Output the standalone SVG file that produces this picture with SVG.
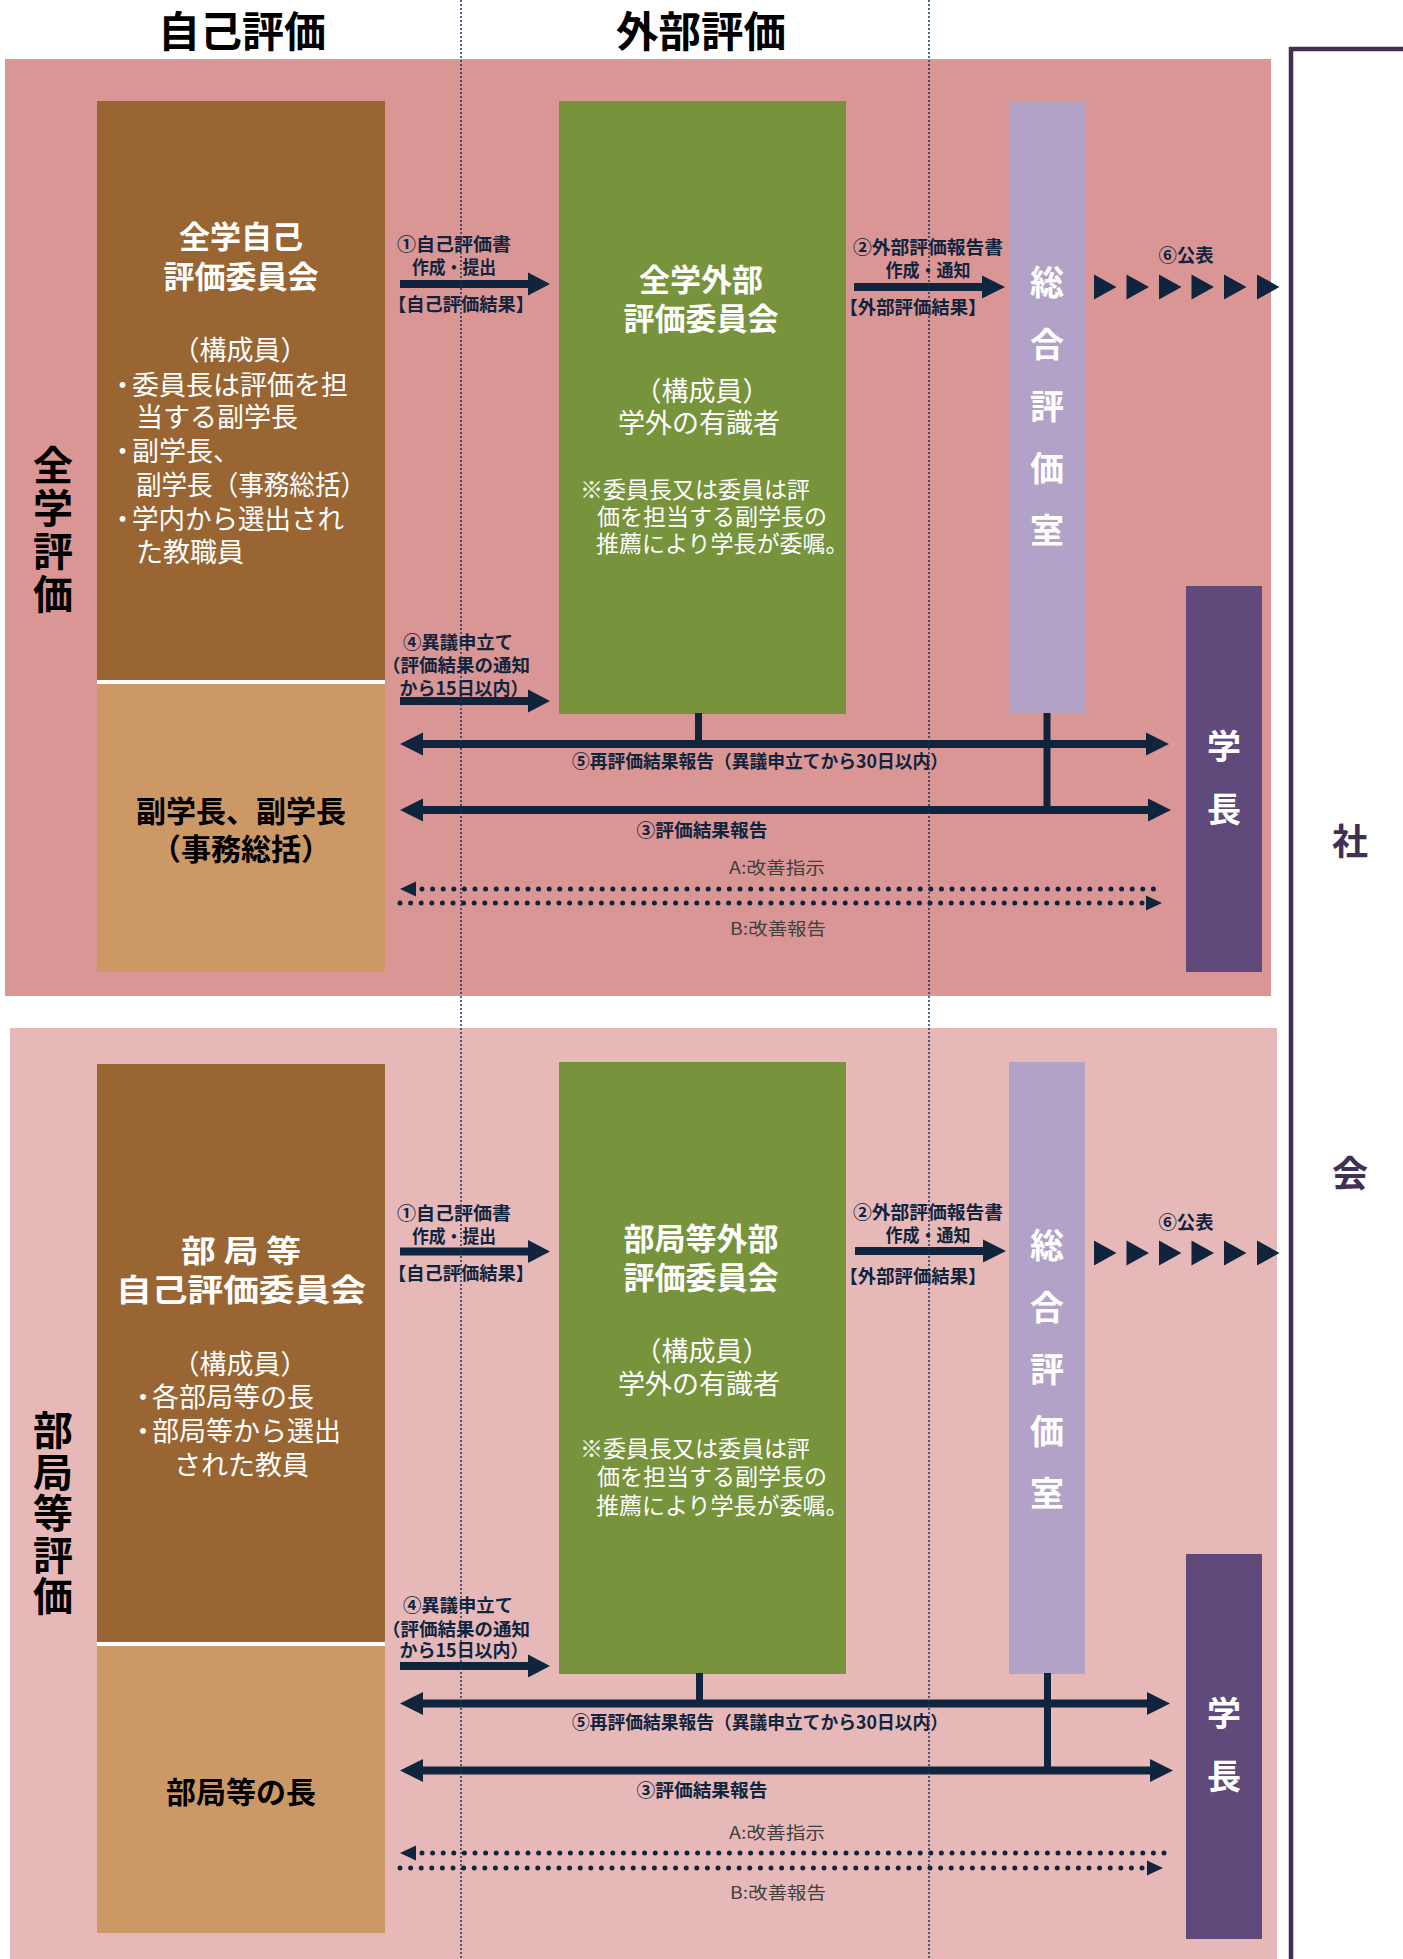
<svg xmlns="http://www.w3.org/2000/svg" width="1403" height="1959" viewBox="0 0 1403 1959">
<style>
text{font-family:"Noto Sans CJK JP","Noto Sans",sans-serif}
.hd{font-size:42px;font-weight:700;fill:#000;text-anchor:middle}
.side{font-size:40px;font-weight:700;fill:#000;writing-mode:vertical-rl;text-orientation:upright}
.ttl{font-size:31px;font-weight:700;fill:#fff;text-anchor:middle}
.body{font-size:27px;font-weight:400;fill:#fff}
.note{font-size:23px;font-weight:400;fill:#fff}
.tan{font-size:30px;font-weight:700;fill:#000;text-anchor:middle}
.vt{font-size:34px;font-weight:700;fill:#fff;writing-mode:vertical-rl;text-orientation:upright}
.soc{font-size:36px;font-weight:700;fill:#403152;text-anchor:middle}
.lbl{font-size:18px;font-weight:700;fill:#10243E;text-anchor:middle}
.ab{font-size:17px;font-weight:400;fill:#404040;text-anchor:middle}
.arr{fill:#10243E}
.dots{stroke:#10243E;stroke-width:5;stroke-linecap:round;stroke-dasharray:0 10.6;fill:none}
.guide{stroke:#17375E;stroke-width:1.5;stroke-dasharray:2 2;fill:none}
</style>
<rect x="0" y="0" width="1403" height="1959" fill="#fff"/>

<g id="headers">
<text class="hd" x="242" y="47" textLength="168" lengthAdjust="spacingAndGlyphs">自己評価</text>
<text class="hd" x="701" y="47" textLength="170" lengthAdjust="spacingAndGlyphs">外部評価</text>
</g>

<g id="panel-zengaku">
<rect x="5" y="59" width="1266" height="937" fill="#D99694"/>
<text class="side" x="53" y="445" letter-spacing="3">全学評価</text>
</g>

<g id="panel-bukyoku">
<rect x="10" y="1028" width="1267" height="931" fill="#E6B9B8"/>
<text class="side" x="53" y="1410" letter-spacing="1.5">部局等評価</text>
</g>

<g id="society">
<path d="M1403 49 H1291 V1959" fill="none" stroke="#403152" stroke-width="4.5"/>
<text class="soc" x="1350" y="855">社</text>
<text class="soc" x="1350" y="1187">会</text>
</g>

<!-- top section nodes -->
<g id="self-committee-top">
<rect x="97" y="101" width="288" height="579" fill="#996633"/>
<text class="ttl" x="241" y="248">全学自己</text>
<text class="ttl" x="241" y="288">評価委員会</text>
<text class="body" x="240" y="360" text-anchor="middle">（構成員）</text>
<text class="body" x="109" y="395">・<tspan x="132">委員長は評価を担</tspan></text>
<text class="body" x="136" y="427">当する副学長</text>
<text class="body" x="109" y="461">・<tspan x="132">副学長、</tspan></text>
<text class="body" x="136" y="495" textLength="230" lengthAdjust="spacingAndGlyphs">副学長（事務総括）</text>
<text class="body" x="109" y="529">・<tspan x="132" textLength="212" lengthAdjust="spacingAndGlyphs">学内から選出され</tspan></text>
<text class="body" x="136" y="562">た教職員</text>
</g>
<rect x="97" y="680" width="288" height="4" fill="#fff"/>
<g id="vp-top">
<rect x="97" y="684" width="288" height="288" fill="#CC9966"/>
<text class="tan" x="241" y="822">副学長、副学長</text>
<text class="tan" x="241" y="860">（事務総括）</text>
</g>
<g id="ext-committee-top">
<rect x="559" y="101" width="287" height="613" fill="#77933C"/>
<text class="ttl" x="701" y="291">全学外部</text>
<text class="ttl" x="701" y="330">評価委員会</text>
<text class="body" x="702" y="401" text-anchor="middle">（構成員）</text>
<text class="body" x="699" y="433" text-anchor="middle">学外の有識者</text>
<text class="note" x="580" y="498">※委員長又は委員は評</text>
<text class="note" x="597" y="525">価を担当する副学長の</text>
<text class="note" x="596" y="552">推薦により学長が委嘱。</text>
</g>
<g id="office-top">
<rect x="1009" y="101" width="76" height="613" fill="#B3A2C7"/>
<text class="vt" x="1047" y="265" letter-spacing="28">総合評価室</text>
</g>
<g id="president-top">
<rect x="1186" y="586" width="76" height="386" fill="#604A7B"/>
<text class="vt" x="1224" y="729" letter-spacing="29">学長</text>
</g>

<!-- bottom section nodes -->
<g id="self-committee-bottom">
<rect x="97" y="1064" width="288" height="578" fill="#996633"/>
<text class="ttl" x="241" y="1262" font-size="29" textLength="120" lengthAdjust="spacingAndGlyphs">部 局 等</text>
<text class="ttl" x="241" y="1301" font-size="29" textLength="250" lengthAdjust="spacingAndGlyphs">自己評価委員会</text>
<text class="body" x="240" y="1374" text-anchor="middle">（構成員）</text>
<text class="body" x="129.5" y="1407">・<tspan x="152">各部局等の長</tspan></text>
<text class="body" x="129.5" y="1441">・<tspan x="152">部局等から選出</tspan></text>
<text class="body" x="174" y="1475">された教員</text>
</g>
<rect x="97" y="1642" width="288" height="4" fill="#fff"/>
<g id="dean-bottom">
<rect x="97" y="1646" width="288" height="287" fill="#CC9966"/>
<text class="tan" x="241" y="1803">部局等の長</text>
</g>
<g id="ext-committee-bottom">
<rect x="559" y="1062" width="287" height="612" fill="#77933C"/>
<text class="ttl" x="701" y="1250">部局等外部</text>
<text class="ttl" x="701" y="1289">評価委員会</text>
<text class="body" x="702" y="1361" text-anchor="middle">（構成員）</text>
<text class="body" x="699" y="1394" text-anchor="middle">学外の有識者</text>
<text class="note" x="580" y="1457">※委員長又は委員は評</text>
<text class="note" x="597" y="1485">価を担当する副学長の</text>
<text class="note" x="596" y="1514">推薦により学長が委嘱。</text>
</g>
<g id="office-bottom">
<rect x="1009" y="1062" width="76" height="612" fill="#B3A2C7"/>
<text class="vt" x="1047" y="1228" letter-spacing="28">総合評価室</text>
</g>
<g id="president-bottom">
<rect x="1186" y="1554" width="76" height="385" fill="#604A7B"/>
<text class="vt" x="1224" y="1696" letter-spacing="29">学長</text>
</g>

<g id="connectors">
<!-- top -->
<path class="arr" d="M400 280 H528 V272.5 L550 284 L528 295.5 V288 H400 Z"/>
<path class="arr" d="M854 283 H982 V275.5 L1005 287 L982 298.5 V291 H854 Z"/>
<path class="arr" d="M1094 274.5 L1116.5 287 L1094 299.5 Z M1126.5 274.5 L1149 287 L1126.5 299.5 Z M1159 274.5 L1181.5 287 L1159 299.5 Z M1191.5 274.5 L1214 287 L1191.5 299.5 Z M1224 274.5 L1246.5 287 L1224 299.5 Z M1257 274.5 L1279.5 287 L1257 299.5 Z"/>
<path class="arr" d="M400 697 H528 V689.5 L550 701 L528 712.5 V705 H400 Z"/>
<rect class="arr" x="695" y="713" width="7" height="32"/>
<rect class="arr" x="1043.5" y="713" width="7" height="98"/>
<path class="arr" d="M400 744 L423 732.5 V740 H1146 V732.5 L1169 744 L1146 755.5 V748 H423 V755.5 Z"/>
<path class="arr" d="M400 810 L423 798.5 V806 H1148 V798.5 L1171 810 L1148 821.5 V814 H423 V821.5 Z"/>
<line class="dots" x1="422" y1="889" x2="1164" y2="889"/>
<path class="arr" d="M400 889 L416 881.5 V896.5 Z"/>
<line class="dots" x1="400" y1="903" x2="1144" y2="903"/>
<path class="arr" d="M1162 903 L1146 895.5 V910.5 Z"/>
<!-- bottom -->
<path class="arr" d="M400 1247.5 H528 V1240 L550 1251.5 L528 1263 V1255.5 H400 Z"/>
<path class="arr" d="M855 1247 H983 V1239.5 L1006 1251 L983 1262.5 V1255 H855 Z"/>
<path class="arr" d="M1094 1240.5 L1116.5 1253 L1094 1265.5 Z M1126.5 1240.5 L1149 1253 L1126.5 1265.5 Z M1159 1240.5 L1181.5 1253 L1159 1265.5 Z M1191.5 1240.5 L1214 1253 L1191.5 1265.5 Z M1224 1240.5 L1246.5 1253 L1224 1265.5 Z M1257 1240.5 L1279.5 1253 L1257 1265.5 Z"/>
<path class="arr" d="M400 1662 H528 V1654.5 L550 1666 L528 1677.5 V1670 H400 Z"/>
<rect class="arr" x="696" y="1673" width="7" height="32"/>
<rect class="arr" x="1044" y="1673" width="7" height="99"/>
<path class="arr" d="M400 1703.5 L423 1692 V1699.5 H1147 V1692 L1170 1703.5 L1147 1715 V1707.5 H423 V1715 Z"/>
<path class="arr" d="M400 1770.5 L423 1759 V1766.5 H1150 V1759 L1173 1770.5 L1150 1782 V1774.5 H423 V1782 Z"/>
<line class="dots" x1="422" y1="1853" x2="1166" y2="1853"/>
<path class="arr" d="M400 1853 L416 1845.5 V1860.5 Z"/>
<line class="dots" x1="400" y1="1868" x2="1145" y2="1868"/>
<path class="arr" d="M1163 1868 L1147 1860.5 V1875.5 Z"/>

<!-- labels top -->
<text class="lbl" x="454" y="251" textLength="114" lengthAdjust="spacingAndGlyphs">①自己評価書</text>
<text class="lbl" x="454" y="274" textLength="84" lengthAdjust="spacingAndGlyphs">作成・提出</text>
<text class="lbl" x="461" y="311" textLength="146" lengthAdjust="spacingAndGlyphs">【自己評価結果】</text>
<text class="lbl" x="928" y="254" textLength="150" lengthAdjust="spacingAndGlyphs">②外部評価報告書</text>
<text class="lbl" x="928" y="277" textLength="85" lengthAdjust="spacingAndGlyphs">作成・通知</text>
<text class="lbl" x="913" y="314" textLength="147" lengthAdjust="spacingAndGlyphs">【外部評価結果】</text>
<text class="lbl" x="1186" y="262" textLength="55" lengthAdjust="spacingAndGlyphs">⑥公表</text>
<text class="lbl" x="458" y="649" textLength="110" lengthAdjust="spacingAndGlyphs">④異議申立て</text>
<text class="lbl" x="456" y="672" textLength="148" lengthAdjust="spacingAndGlyphs">（評価結果の通知</text>
<text class="lbl" x="464" y="695" textLength="129" lengthAdjust="spacingAndGlyphs">から15日以内）</text>
<text class="lbl" x="760" y="768" textLength="376" lengthAdjust="spacingAndGlyphs">⑤再評価結果報告（異議申立てから30日以内）</text>
<text class="lbl" x="702" y="837" textLength="131" lengthAdjust="spacingAndGlyphs">③評価結果報告</text>
<text class="ab" x="777" y="874" textLength="96" lengthAdjust="spacingAndGlyphs">A:改善指示</text>
<text class="ab" x="778" y="935" textLength="96" lengthAdjust="spacingAndGlyphs">B:改善報告</text>
<!-- labels bottom -->
<text class="lbl" x="454" y="1220" textLength="114" lengthAdjust="spacingAndGlyphs">①自己評価書</text>
<text class="lbl" x="454" y="1243" textLength="84" lengthAdjust="spacingAndGlyphs">作成・提出</text>
<text class="lbl" x="461" y="1280" textLength="146" lengthAdjust="spacingAndGlyphs">【自己評価結果】</text>
<text class="lbl" x="928" y="1219" textLength="150" lengthAdjust="spacingAndGlyphs">②外部評価報告書</text>
<text class="lbl" x="928" y="1242" textLength="85" lengthAdjust="spacingAndGlyphs">作成・通知</text>
<text class="lbl" x="913" y="1283" textLength="147" lengthAdjust="spacingAndGlyphs">【外部評価結果】</text>
<text class="lbl" x="1186" y="1229" textLength="55" lengthAdjust="spacingAndGlyphs">⑥公表</text>
<text class="lbl" x="458" y="1612" textLength="110" lengthAdjust="spacingAndGlyphs">④異議申立て</text>
<text class="lbl" x="456" y="1636" textLength="148" lengthAdjust="spacingAndGlyphs">（評価結果の通知</text>
<text class="lbl" x="464" y="1657" textLength="129" lengthAdjust="spacingAndGlyphs">から15日以内）</text>
<text class="lbl" x="760" y="1729" textLength="376" lengthAdjust="spacingAndGlyphs">⑤再評価結果報告（異議申立てから30日以内）</text>
<text class="lbl" x="702" y="1797" textLength="131" lengthAdjust="spacingAndGlyphs">③評価結果報告</text>
<text class="ab" x="777" y="1839" textLength="96" lengthAdjust="spacingAndGlyphs">A:改善指示</text>
<text class="ab" x="778" y="1899" textLength="96" lengthAdjust="spacingAndGlyphs">B:改善報告</text>
</g>

<g id="guides">
<line class="guide" x1="461" y1="0" x2="461" y2="1959"/>
<line class="guide" x1="929" y1="0" x2="929" y2="1959"/>
</g>
</svg>
